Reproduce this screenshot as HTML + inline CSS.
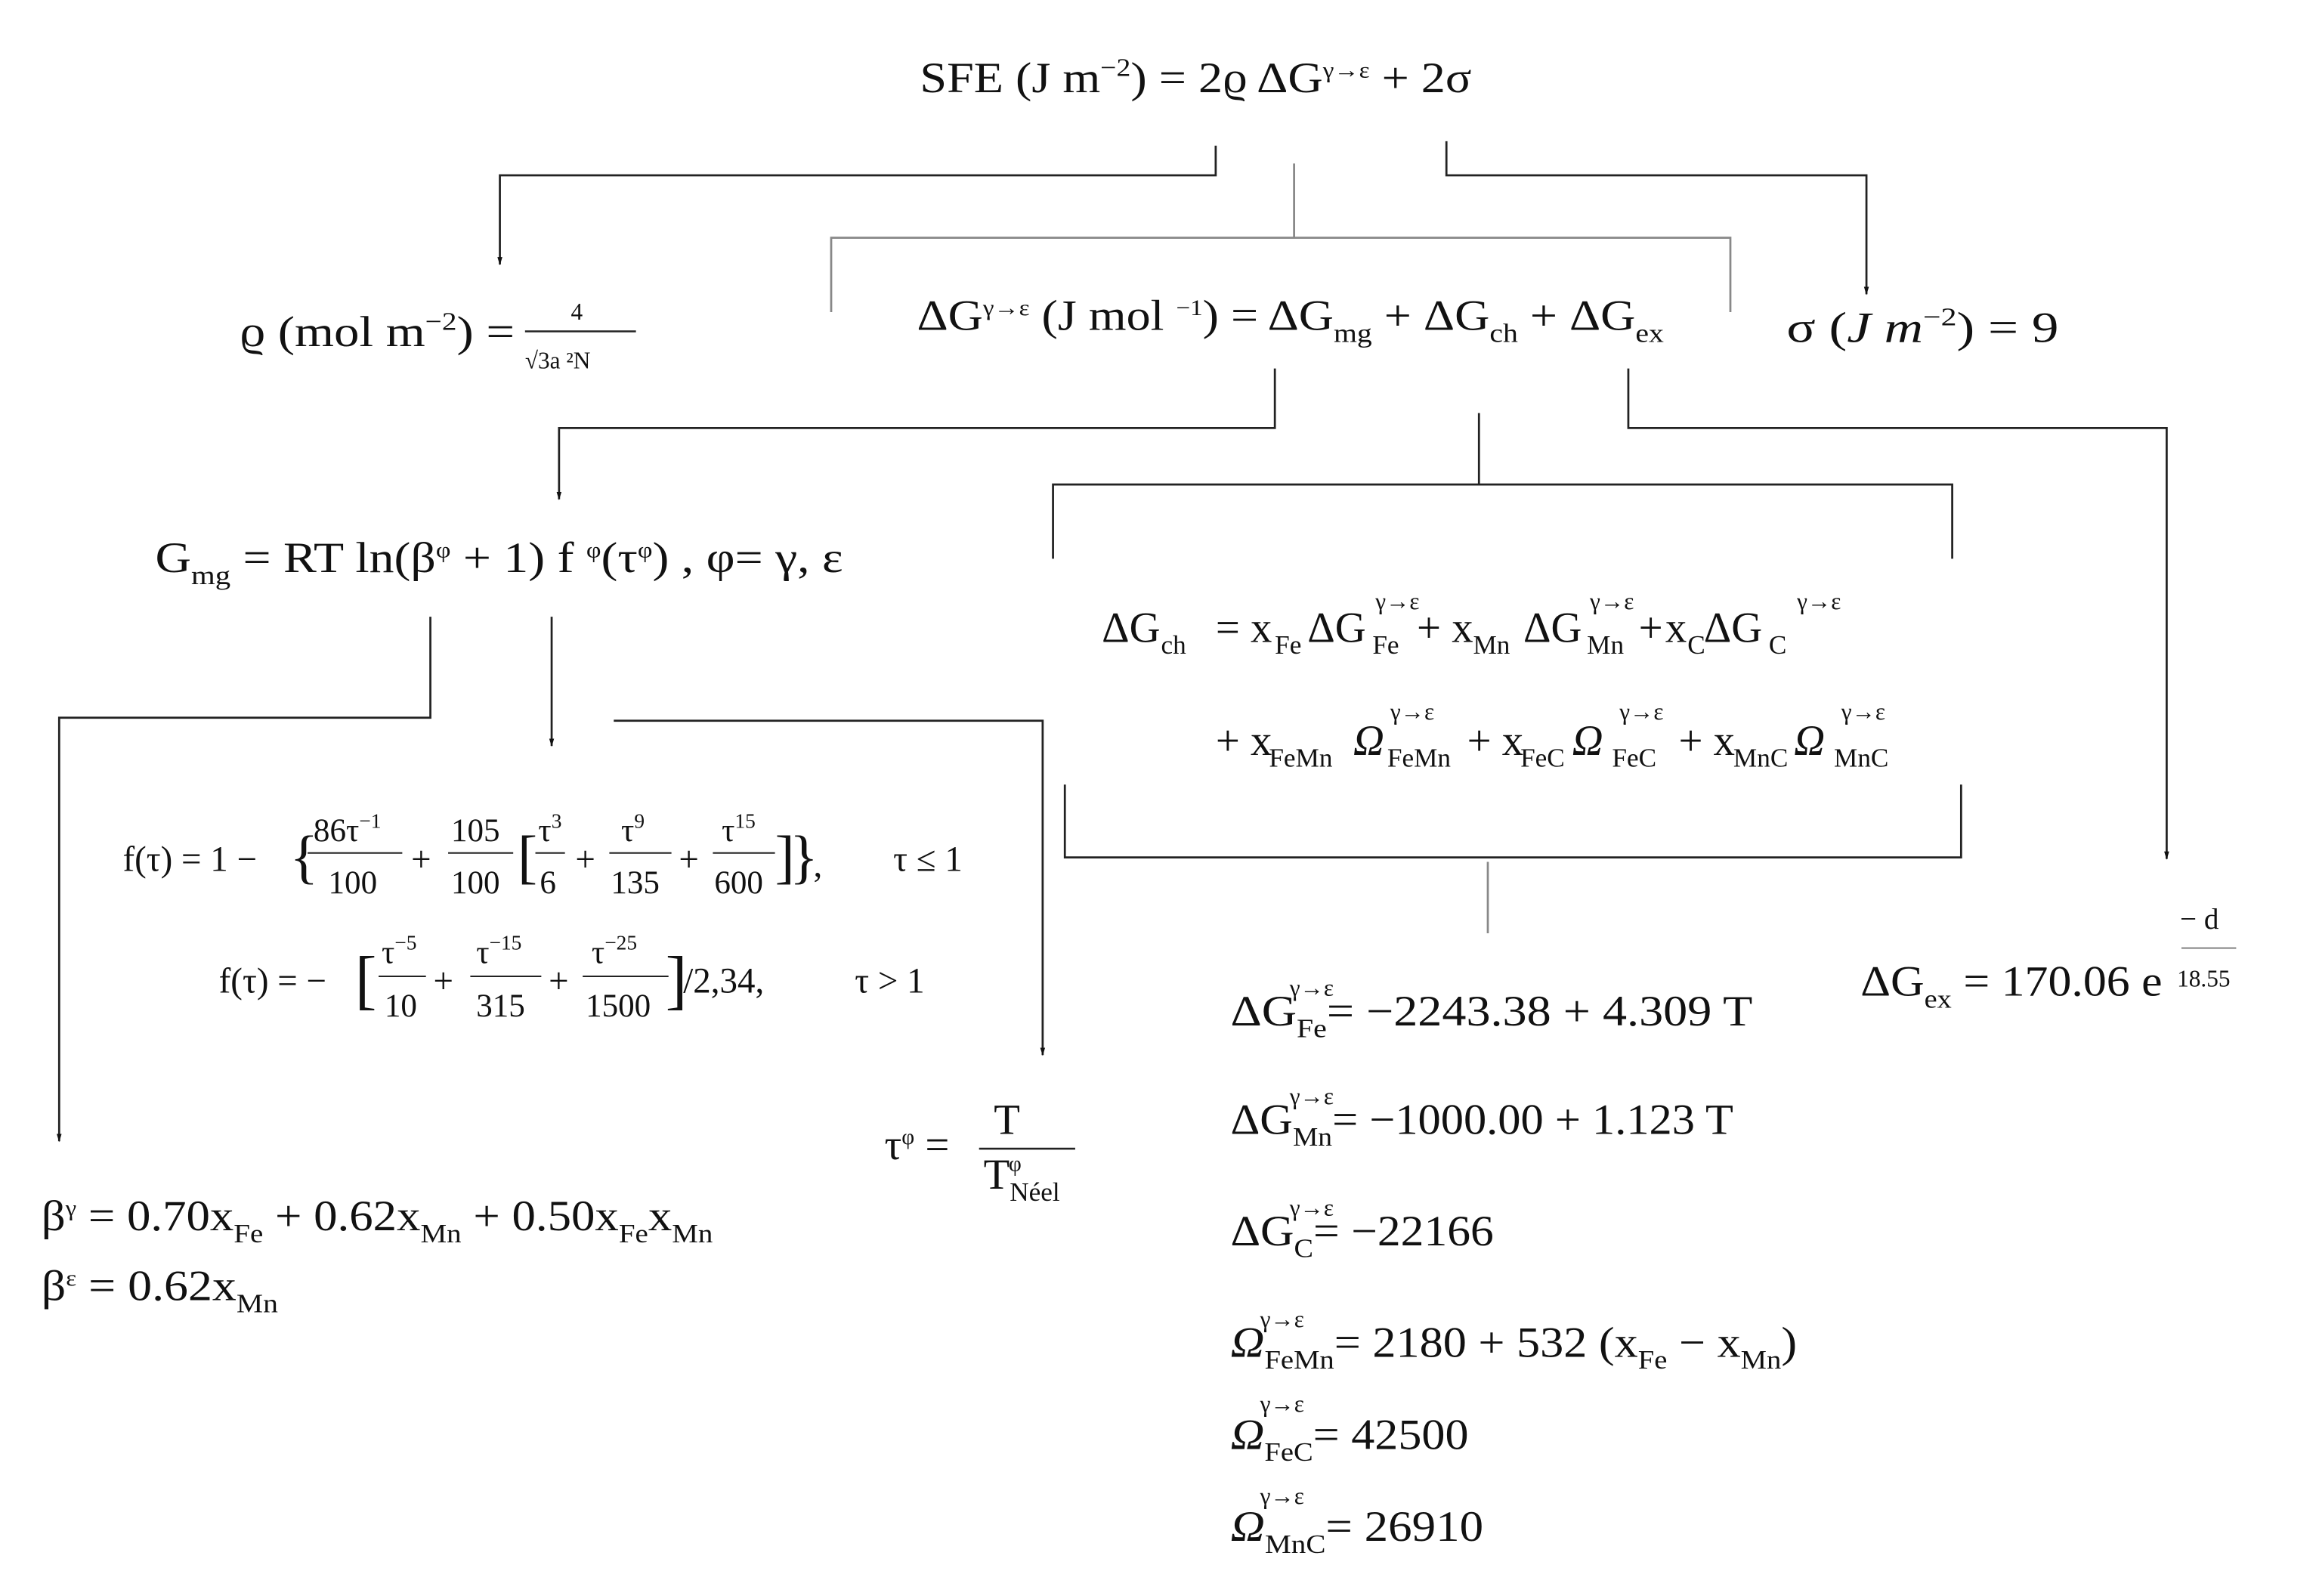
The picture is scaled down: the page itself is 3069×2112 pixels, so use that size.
<!DOCTYPE html>
<html><head><meta charset="utf-8"><style>
html,body{margin:0;padding:0;background:#fff;width:3069px;height:2112px;overflow:hidden}
svg{display:block}
text{font-family:"Liberation Serif","DejaVu Serif",serif;fill:#111}
</style></head><body>
<svg width="3069" height="2112" viewBox="0 0 1568 1074" preserveAspectRatio="none" xmlns="http://www.w3.org/2000/svg">
<defs><marker id="a" viewBox="0 0 10 10" refX="9" refY="5" markerWidth="4" markerHeight="4" orient="auto"><path d="M0,2 L10,5 L0,8z" fill="#111"/></marker></defs>
<g fill="none" stroke="#222" stroke-width="1.4">
<polyline points="822,98 822,118 338,118 338,178" marker-end="url(#a)"/>
<polyline points="978,95 978,118 1262,118 1262,198" marker-end="url(#a)"/>
<polyline points="862,248 862,288 378,288 378,336" marker-end="url(#a)"/>
<polyline points="1101,248 1101,288 1465,288 1465,578" marker-end="url(#a)"/>
<line x1="1000" y1="278" x2="1000" y2="326"/>
<polyline points="712,376 712,326 1320,326 1320,376"/>
<polyline points="720,528 720,577 1326,577 1326,528"/>
<polyline points="291,415 291,483 40,483 40,768" marker-end="url(#a)"/>
<line x1="373" y1="415" x2="373" y2="502" marker-end="url(#a)"/>
<polyline points="415,485 705,485 705,710" marker-end="url(#a)"/>
</g>
<g fill="none" stroke="#888" stroke-width="1.4">
<line x1="875" y1="110" x2="875" y2="160"/>
<polyline points="562,210 562,160 1170,160 1170,210"/>
<line x1="1006" y1="580" x2="1006" y2="628"/>
</g>
<g stroke="#222" stroke-width="1.3">
<line x1="355" y1="223" x2="430" y2="223"/>
<line x1="1475" y1="638" x2="1512" y2="638" stroke="#999"/>
<line x1="662" y1="773" x2="727" y2="773"/>
</g>
<g font-size="29">
<text x="622" y="62" textLength="373" lengthAdjust="spacingAndGlyphs">SFE (J m<tspan font-size="17" dy="-11">−2</tspan><tspan dy="11">) = 2ϱ ΔG</tspan><tspan font-size="15" dy="-10">γ→ε</tspan><tspan dy="10"> + 2σ</tspan></text>
<text x="162" y="233" textLength="186" lengthAdjust="spacingAndGlyphs">ϱ (mol m<tspan font-size="17" dy="-11">−2</tspan><tspan dy="11">) =</tspan></text>
<text x="386" y="215" font-size="16">4</text>
<text x="355" y="248" font-size="16">√3a ²N</text>
<text x="620" y="222" textLength="505" lengthAdjust="spacingAndGlyphs">ΔG<tspan font-size="15" dy="-10">γ→ε</tspan><tspan dy="10"> (J mol </tspan><tspan font-size="15" dy="-10">−1</tspan><tspan dy="10">) = ΔG</tspan><tspan font-size="18" dy="8">mg</tspan><tspan dy="-8"> + ΔG</tspan><tspan font-size="18" dy="8">ch</tspan><tspan dy="-8"> + ΔG</tspan><tspan font-size="18" dy="8">ex</tspan></text>
<text x="1208" y="230" textLength="184" lengthAdjust="spacingAndGlyphs">σ (<tspan font-style="italic">J m</tspan><tspan font-size="17" dy="-11">−2</tspan><tspan dy="11">) = 9</tspan></text>
<text x="105" y="385" textLength="465" lengthAdjust="spacingAndGlyphs">G<tspan font-size="18" dy="8">mg</tspan><tspan dy="-8"> = RT ln(β</tspan><tspan font-size="15" dy="-10">φ</tspan><tspan dy="10"> + 1) f </tspan><tspan font-size="15" dy="-10">φ</tspan><tspan dy="10">(τ</tspan><tspan font-size="15" dy="-10">φ</tspan><tspan dy="10">) , φ= γ, ε</tspan></text>

<text y="432"><tspan x="745">ΔG</tspan><tspan x="822">= x</tspan><tspan x="884">ΔG</tspan><tspan x="958">+ x</tspan><tspan x="1030">ΔG</tspan><tspan x="1108">+</tspan><tspan x="1126">x</tspan><tspan x="1152">ΔG</tspan></text>
<text y="440" font-size="18"><tspan x="785">ch</tspan><tspan x="862">Fe</tspan><tspan x="928">Fe</tspan><tspan x="996">Mn</tspan><tspan x="1073">Mn</tspan><tspan x="1141">C</tspan><tspan x="1196">C</tspan></text>
<text y="410" font-size="16"><tspan x="930">γ→ε</tspan><tspan x="1075">γ→ε</tspan><tspan x="1215">γ→ε</tspan></text>
<text y="508"><tspan x="822">+ x</tspan><tspan x="915" font-style="italic">Ω</tspan><tspan x="992">+ x</tspan><tspan x="1063" font-style="italic">Ω</tspan><tspan x="1135">+ x</tspan><tspan x="1213" font-style="italic">Ω</tspan></text>
<text y="516" font-size="18"><tspan x="858">FeMn</tspan><tspan x="938">FeMn</tspan><tspan x="1028">FeC</tspan><tspan x="1090">FeC</tspan><tspan x="1172">MnC</tspan><tspan x="1240">MnC</tspan></text>
<text y="484" font-size="16"><tspan x="940">γ→ε</tspan><tspan x="1095">γ→ε</tspan><tspan x="1245">γ→ε</tspan></text>

<text x="83" y="586" font-size="24">f(τ) = 1 −</text><text x="196" y="590" font-size="40">{</text>
<text x="212" y="566" font-size="22">86τ<tspan font-size="14" dy="-9">−1</tspan></text><line x1="208" y1="574" x2="272" y2="574" stroke="#222"/><text x="222" y="601" font-size="22">100</text>
<text x="278" y="586" font-size="24">+</text>
<text x="305" y="566" font-size="22">105</text><line x1="303" y1="574" x2="347" y2="574" stroke="#222"/><text x="305" y="601" font-size="22">100</text>
<text x="350" y="590" font-size="40">[</text>
<text x="364" y="566" font-size="22">τ<tspan font-size="14" dy="-9">3</tspan></text><line x1="362" y1="574" x2="382" y2="574" stroke="#222"/><text x="365" y="601" font-size="22">6</text>
<text x="389" y="586" font-size="24">+</text>
<text x="420" y="566" font-size="22">τ<tspan font-size="14" dy="-9">9</tspan></text><line x1="412" y1="574" x2="454" y2="574" stroke="#222"/><text x="413" y="601" font-size="22">135</text>
<text x="459" y="586" font-size="24">+</text>
<text x="488" y="566" font-size="22">τ<tspan font-size="14" dy="-9">15</tspan></text><line x1="482" y1="574" x2="524" y2="574" stroke="#222"/><text x="483" y="601" font-size="22">600</text>
<text x="524" y="590" font-size="40">]</text><text x="534" y="590" font-size="40">}</text><text x="550" y="590" font-size="24">,</text>
<text x="604" y="586" font-size="24">τ ≤ 1</text>
<text x="148" y="668" font-size="24">f(τ) = −</text><text x="240" y="674" font-size="44">[</text>
<text x="258" y="648" font-size="22">τ<tspan font-size="14" dy="-9">−5</tspan></text><line x1="256" y1="657" x2="288" y2="657" stroke="#222"/><text x="260" y="684" font-size="22">10</text>
<text x="293" y="668" font-size="24">+</text>
<text x="322" y="648" font-size="22">τ<tspan font-size="14" dy="-9">−15</tspan></text><line x1="318" y1="657" x2="366" y2="657" stroke="#222"/><text x="322" y="684" font-size="22">315</text>
<text x="371" y="668" font-size="24">+</text>
<text x="400" y="648" font-size="22">τ<tspan font-size="14" dy="-9">−25</tspan></text><line x1="394" y1="657" x2="452" y2="657" stroke="#222"/><text x="396" y="684" font-size="22">1500</text>
<text x="450" y="674" font-size="44">]</text><text x="462" y="668" font-size="24">/2,34,</text>
<text x="578" y="668" font-size="24">τ &gt; 1</text>
<text x="1258" y="670" textLength="204" lengthAdjust="spacingAndGlyphs">ΔG<tspan font-size="18" dy="8">ex</tspan><tspan dy="-8"> = 170.06 e</tspan></text>
<text x="1474" y="625" font-size="20">− d</text>
<text x="1472" y="664" font-size="16">18.55</text>
<text x="598" y="780">τ<tspan font-size="15" dy="-10">φ</tspan><tspan dy="10"> =</tspan></text>
<text x="672" y="763">T</text>
<text x="665" y="800">T<tspan font-size="18" dy="8">Néel</tspan></text><text x="682" y="788" font-size="15">φ</text>
<text x="28" y="828" textLength="454" lengthAdjust="spacingAndGlyphs">β<tspan font-size="15" dy="-10">γ</tspan><tspan dy="10"> = 0.70x</tspan><tspan font-size="18" dy="8">Fe</tspan><tspan dy="-8"> + 0.62x</tspan><tspan font-size="18" dy="8">Mn</tspan><tspan dy="-8"> + 0.50x</tspan><tspan font-size="18" dy="8">Fe</tspan><tspan dy="-8">x</tspan><tspan font-size="18" dy="8">Mn</tspan></text>
<text x="28" y="875" textLength="160" lengthAdjust="spacingAndGlyphs">β<tspan font-size="15" dy="-10">ε</tspan><tspan dy="10"> = 0.62x</tspan><tspan font-size="18" dy="8">Mn</tspan></text>
<text x="832" y="690" textLength="353" lengthAdjust="spacingAndGlyphs">ΔG<tspan font-size="18" dy="8">Fe</tspan><tspan dy="-8">= −2243.38 + 4.309 T</tspan></text><text x="872" y="670" font-size="16">γ→ε</text>
<text x="832" y="763" textLength="340" lengthAdjust="spacingAndGlyphs">ΔG<tspan font-size="18" dy="8">Mn</tspan><tspan dy="-8">= −1000.00 + 1.123 T</tspan></text><text x="872" y="743" font-size="16">γ→ε</text>
<text x="832" y="838" textLength="178" lengthAdjust="spacingAndGlyphs">ΔG<tspan font-size="18" dy="8">C</tspan><tspan dy="-8">= −22166</tspan></text><text x="872" y="818" font-size="16">γ→ε</text>
<text x="832" y="913" font-style="italic" textLength="383" lengthAdjust="spacingAndGlyphs">Ω<tspan font-style="normal" font-size="18" dy="8">FeMn</tspan><tspan font-style="normal" dy="-8">= 2180 + 532 (x</tspan><tspan font-style="normal" font-size="18" dy="8">Fe</tspan><tspan font-style="normal" dy="-8"> − x</tspan><tspan font-style="normal" font-size="18" dy="8">Mn</tspan><tspan font-style="normal" dy="-8">)</tspan></text><text x="852" y="893" font-size="16">γ→ε</text>
<text x="832" y="975" font-style="italic" textLength="161" lengthAdjust="spacingAndGlyphs">Ω<tspan font-style="normal" font-size="18" dy="8">FeC</tspan><tspan font-style="normal" dy="-8">= 42500</tspan></text><text x="852" y="950" font-size="16">γ→ε</text>
<text x="832" y="1037" font-style="italic" textLength="171" lengthAdjust="spacingAndGlyphs">Ω<tspan font-style="normal" font-size="18" dy="8">MnC</tspan><tspan font-style="normal" dy="-8">= 26910</tspan></text><text x="852" y="1012" font-size="16">γ→ε</text>
</g>
</svg>
</body></html>
